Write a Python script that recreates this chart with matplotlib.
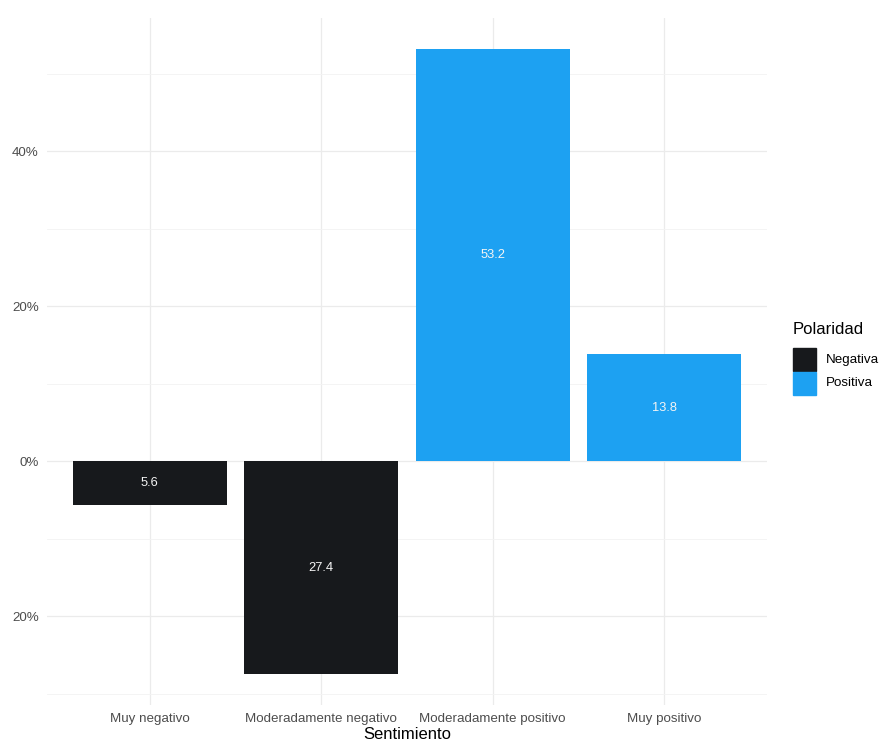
import matplotlib.pyplot as plt
from matplotlib.patches import Rectangle

# datos del gráfico
sentimientos = ['Muy negativo', 'Moderadamente negativo', 'Moderadamente positivo', 'Muy positivo']
porcentajes = [-5.6, -27.4, 53.2, 13.8]
polaridad = ['Negativa', 'Negativa', 'Positiva', 'Positiva']
colores = {'Negativa': '#17191c', 'Positiva': '#1da1f2'}

plt.rcParams['font.family'] = ['Liberation Sans', 'DejaVu Sans']

fig = plt.figure(figsize=(8.81, 7.40), dpi=100)
ax = fig.add_axes([47 / 881, 35 / 740, 720 / 881, 687.5 / 740])

x = range(len(sentimientos))
ax.bar(x, porcentajes, width=0.9, color=[colores[p] for p in polaridad], zorder=3)

# etiquetas dentro de las barras
for xi, v in zip(x, porcentajes):
    ax.text(xi, v / 2, f'{abs(v):.1f}', ha='center', va='center', color='#f4f4f4', fontsize=9.3)

# ejes estilo theme_minimal
ymin, ymax = min(porcentajes), max(porcentajes)
pad = (ymax - ymin) * 0.05
ax.set_ylim(ymin - pad, ymax + pad)
ax.set_xlim(-0.6, len(sentimientos) - 0.4)

ax.set_yticks([-20, 0, 20, 40])
ax.set_yticklabels([f'{abs(t)}%' for t in [-20, 0, 20, 40]])
ax.set_yticks([-30, -10, 10, 30, 50], minor=True)
ax.set_xticks(list(x))
ax.set_xticklabels(sentimientos)

ax.grid(True, which='major', color='#ebebeb', linewidth=0.9, zorder=0)
ax.grid(True, which='minor', axis='y', color='#f3f3f3', linewidth=0.6, zorder=0)
for s in ax.spines.values():
    s.set_visible(False)
ax.tick_params(which='both', length=0, colors='#4d4d4d', labelsize=9.6)
ax.tick_params(axis='x', pad=6)
ax.tick_params(axis='y', pad=6)
ax.set_xlabel('Sentimiento', fontsize=12, labelpad=1)

# leyenda
fig.text(793 / 881, 1 - 330 / 740, 'Polaridad', fontsize=12, va='center', ha='left')
for i, p in enumerate(['Negativa', 'Positiva']):
    y0 = 1 - (371 + i * 24) / 740
    fig.patches.append(Rectangle((793 / 881, y0), 23 / 881, 23 / 740,
                                 transform=fig.transFigure, color=colores[p]))
    fig.text(826 / 881, y0 + 11.5 / 740, p, fontsize=9.6, va='center', ha='left')

fig.savefig('out.png', dpi=100, facecolor='white')
